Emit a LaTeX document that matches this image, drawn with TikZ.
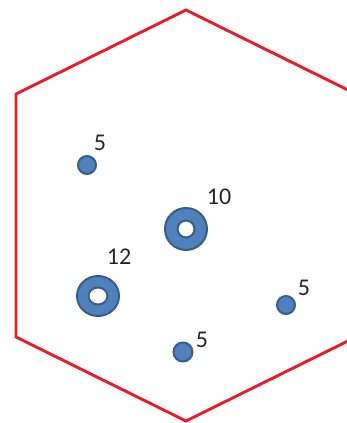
\documentclass[tikz,border=0pt]{standalone}
\usepackage{fontspec}
\setmainfont{Carlito}
\definecolor{hexred}{RGB}{237,28,36}
\definecolor{dotfill}{RGB}{79,129,189}
\definecolor{dotline}{RGB}{56,93,138}
\begin{document}
\begin{tikzpicture}[x=1pt,y=-1pt,
  hexline/.style={draw=hexred,line width=2.9pt,line join=miter},
  dot/.style={circle,fill=dotfill,draw=dotline,line width=2pt,inner sep=0pt,minimum size=18pt},
  ringstyle/.style={fill=dotfill,draw=dotline,line width=2pt,even odd rule},
  lbl/.style={inner sep=0pt,font=\fontsize{24}{28}\selectfont,text=black!85}]
\useasboundingbox (0,0) rectangle (347,423);
\clip (0,0) rectangle (347,423);
\draw[hexline] (186,10) -- (16,94) -- (16,337) -- (186,421) -- (356,337) -- (356,94) -- cycle;
% rings
\path[ringstyle] (186,229) circle (21) (186,229) circle (8.5);
\path[ringstyle] (98,296) ellipse [x radius=21,y radius=20] (98,296) ellipse [x radius=9.5,y radius=8.5];
\coordinate (r10) at (186,229);
\coordinate (r12) at (98,296);
% dots
\node[dot] (d1) at (87,165) {};
\node[dot] (d2) at (286,305) {};
\node[dot,minimum size=19pt] (d3) at (183,352) {};
% labels
\node[lbl] (l1) at (100,143) {5};
\node[lbl] (l2) at (219,197) {10};
\node[lbl] (l3) at (119,257) {12};
\node[lbl] (l4) at (304,288) {5};
\node[lbl] (l5) at (202,340) {5};
\end{tikzpicture}
\end{document}
